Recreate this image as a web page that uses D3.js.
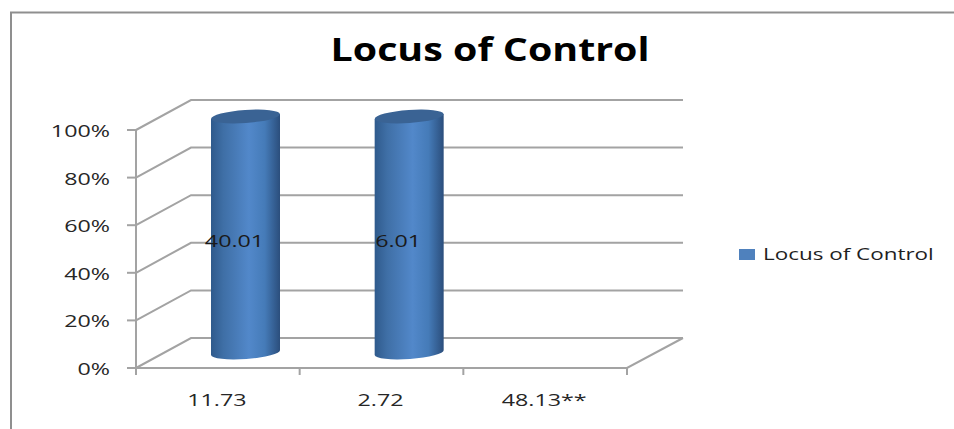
<!DOCTYPE html>
<html>
<head>
<meta charset="utf-8">
<script src="https://cdn.jsdelivr.net/npm/d3@7.9.0/dist/d3.min.js"></script>
<style>
  html, body { margin: 0; padding: 0; background: #fff; }
  svg { display: block; }
  text { font-family: "Open Sans", sans-serif; }
</style>
</head>
<body>
<svg id="chart" width="954" height="429"></svg>
<script>
const title = 'Locus of Control';
const seriesName = 'Locus of Control';
const categories = ['11.73', '2.72', '48.13**'];
const shares = [100, 100, 0];
const barLabels = ['40.01', '6.01', ''];
const percentTicks = [0, 20, 40, 60, 80, 100];

const svg = d3.select('#chart');
const gridColor = '#a3a3a3';
const depthX = 54;
const depthY = -30;
// the source picture is stretched sideways, text included
const textStretch = 1.37;

const x = d3.scaleBand().domain(categories).range([136, 627]);
const y = d3.scaleLinear().domain([0, 100]).range([368, 130]);

function addText(parent, str, px, py, anchor, size, color, sx = textStretch) {
  return parent.append('text')
    .attr('transform', `translate(${px},${py}) scale(${sx},1)`)
    .attr('text-anchor', anchor)
    .attr('font-size', size)
    .attr('fill', color)
    .text(str);
}

svg.append('path')
  .attr('d', 'M11,429V12.5H954')
  .attr('fill', 'none')
  .attr('stroke', '#8f8f8f')
  .attr('stroke-width', 2);

addText(svg, title, 490, 61, 'middle', 32, '#000', 1.23).attr('font-weight', 700);

// back wall grid + slanted side wall
const grid = svg.append('g').attr('fill', 'none').attr('stroke', gridColor).attr('stroke-width', 2);
grid.selectAll('path.wall')
  .data(percentTicks)
  .join('path')
  .attr('class', 'wall')
  .attr('d', (d) => `M${x.range()[0]},${y(d)}L${x.range()[0] + depthX + 1},${y(d) + depthY}H${x.range()[1] + depthX + 2}`);

// floor front edge
grid.append('path')
  .attr('d', `M${x.range()[0]},${y(0)}H${x.range()[1]}L${x.range()[1] + depthX + 2},${y(0) + depthY}`);

// value axis with ticks
grid.append('path').attr('d', `M${x.range()[0]},${y(100)}V${y(0) + 6}`);
grid.selectAll('path.ytick')
  .data(percentTicks)
  .join('path')
  .attr('class', 'ytick')
  .attr('d', (d) => `M${x.range()[0] - 9},${y(d)}H${x.range()[0]}`);

// category ticks
const catEdges = categories.map((c) => x(c)).concat(x.range()[1]);
grid.selectAll('path.xtick')
  .data(catEdges)
  .join('path')
  .attr('class', 'xtick')
  .attr('d', (d) => `M${d},${y(0)}v7`);

percentTicks.forEach((d) => {
  addText(svg, `${d}%`, 110, y(d) + 7, 'end', 17, '#262626');
});

categories.forEach((c) => {
  addText(svg, c, x(c) + x.bandwidth() / 2 - 1, 406, 'middle', 17, '#262626');
});

// cylinder shading
const defs = svg.append('defs');
const grad = defs.append('linearGradient').attr('id', 'cyl');
[[0, '#2f5a8c'], [0.18, '#3f6fa6'], [0.55, '#5288ca'], [0.78, '#457bb8'], [1, '#2b4e7c']].forEach(([o, c]) => {
  grad.append('stop').attr('offset', o).attr('stop-color', c);
});

const barW = 69;
const barOffset = 75;
const rx = barW / 2;
const ry = 6.5;
const tilt = -4;
const bars = svg.append('g');

categories.forEach((c, i) => {
  if (shares[i] === 0) return;
  const left = x(c) + barOffset;
  const cx = left + rx;
  const top = y(shares[i]) - 13.5;
  const bottom = y(0) - 15.5;
  bars.append('path')
    .attr('d', `M${left},${top + 2.5}L${left + barW},${top - 2.5}L${left + barW},${bottom - 2.5}A${rx},${ry} ${tilt} 0 1 ${left},${bottom + 2.5}Z`)
    .attr('fill', 'url(#cyl)');
  bars.append('ellipse')
    .attr('cx', cx)
    .attr('cy', top)
    .attr('rx', rx)
    .attr('ry', ry)
    .attr('transform', `rotate(${tilt} ${cx} ${top})`)
    .attr('fill', '#3a6394');
  addText(svg, barLabels[i], cx - 11, y(50) - 2, 'middle', 17, '#1a1a1a');
});

// legend
svg.append('rect')
  .attr('x', 739).attr('y', 249).attr('width', 16).attr('height', 11)
  .attr('fill', '#4f81bd');
addText(svg, seriesName, 763, 260, 'start', 17, '#1f1f1f', 1.32);
</script>
</body>
</html>
